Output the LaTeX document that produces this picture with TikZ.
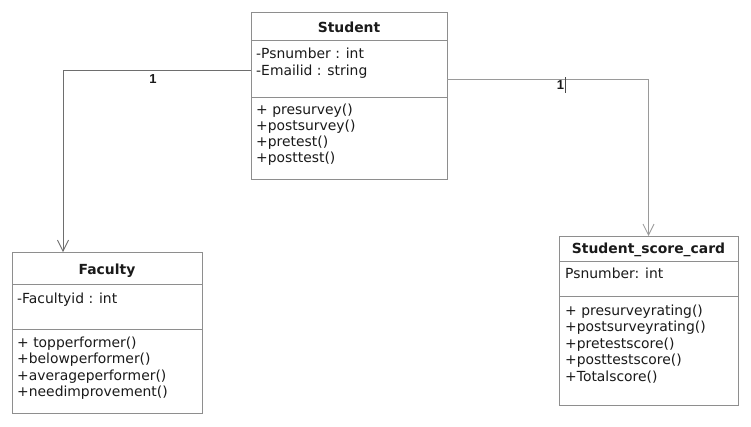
\documentclass[tikz,border=0pt]{standalone}
\usepackage{fontspec}
\setmainfont{DejaVu Sans}
\newfontfamily\labfont{Liberation Sans}
\usetikzlibrary{arrows.meta,calc}
\definecolor{boxgray}{HTML}{8E8E8E}
\definecolor{linedark}{HTML}{6E6E6E}
\definecolor{linelight}{HTML}{9A9A9A}
\definecolor{txtc}{HTML}{1A1A1A}
\begin{document}
\begin{tikzpicture}[x=1pt,y=-1pt,
  umlbox/.style={draw=boxgray, line width=0.9pt, inner sep=0pt, outer sep=0pt},
  sep/.style={draw=boxgray, line width=0.9pt},
  txt/.style={anchor=base west, inner sep=0pt, text=txtc, font=\fontsize{13.9}{16}\selectfont},
  ttl/.style={anchor=base, inner sep=0pt, text=txtc, font=\fontsize{13.9}{16}\selectfont\bfseries},
  conn/.style={line width=0.9pt, -{Straight Barb[length=11pt,width=11pt,line width=0.8pt]}},
  mult/.style={inner sep=0pt, text=txtc, font=\labfont\fontsize{13}{15}\selectfont\bfseries}]
\useasboundingbox[fill=white] (0,0) rectangle (751,426);

% Student
\node[umlbox, minimum width=196pt, minimum height=167pt] (stu) at (349,95.5) {};
\draw[sep] (251,40) -- (447,40);
\draw[sep] (251,97) -- (447,97);
\node[ttl] (stuT) at (349,32) {Student};
\node[txt] (stuA1) at (256,58) {-Psnumber : int};
\node[txt] (stuA2) at (256,75) {-Emailid : string};
\node[txt] (stuM1) at (256,114) {+ presurvey()};
\node[txt] (stuM2) at (256,130.3) {+postsurvey()};
\node[txt] (stuM3) at (256,146.6) {+pretest()};
\node[txt] (stuM4) at (256,162.9) {+posttest()};

% Faculty
\node[umlbox, minimum width=190pt, minimum height=161pt] (fac) at (107,332.5) {};
\draw[sep] (12,284) -- (202,284);
\draw[sep] (12,329) -- (202,329);
\node[ttl] (facT) at (107,274) {Faculty};
\node[txt] (facA1) at (17,303) {-Facultyid : int};
\node[txt] (facM1) at (17,347) {+ topperformer()};
\node[txt] (facM2) at (17,363.5) {+belowperformer()};
\node[txt] (facM3) at (17,380) {+averageperformer()};
\node[txt] (facM4) at (17,396.5) {+needimprovement()};

% Student_score_card
\node[umlbox, minimum width=179pt, minimum height=169pt] (ssc) at (648.5,320.5) {};
\draw[sep] (559,261) -- (738,261);
\draw[sep] (559,296) -- (738,296);
\node[ttl] (sscT) at (648.5,253) {Student\_score\_card};
\node[txt] (sscA1) at (565,278) {Psnumber: int};
\node[txt] (sscM1) at (565,315) {+ presurveyrating()};
\node[txt] (sscM2) at (565,331.5) {+postsurveyrating()};
\node[txt] (sscM3) at (565,348) {+pretestscore()};
\node[txt] (sscM4) at (565,364.5) {+posttestscore()};
\node[txt] (sscM5) at (565,381) {+Totalscore()};

% connectors
\coordinate (c1s) at (251,70);
\coordinate (c1e) at ($(fac.north west)+(51,0)$);
\draw[conn, draw=linedark] (c1s) -| (c1e);
\node[mult] (m1) at (153,79) {1};

\coordinate (c2s) at (447,79);
\draw[conn, draw=linelight] (c2s) -| (ssc.north);
\node[mult] (m2) at (560.5,85) {1};
\draw[line width=1.2pt, draw=txtc!80] (565.5,77) -- (565.5,93);
\end{tikzpicture}
\end{document}
